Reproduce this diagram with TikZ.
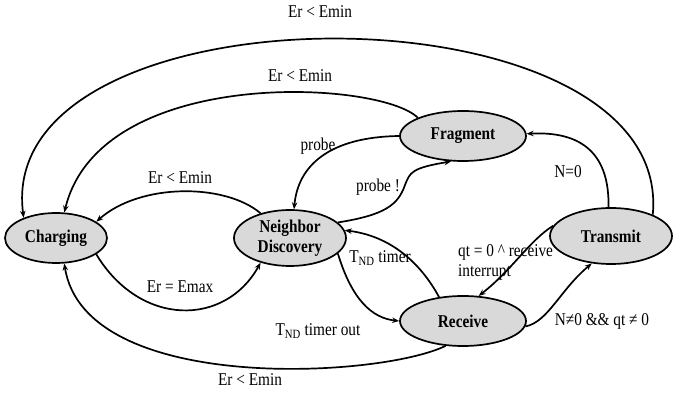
\documentclass[tikz,border=0pt]{standalone}
\usepackage{fontspec}
\setmainfont[FakeStretch=0.85]{Liberation Serif}
\usetikzlibrary{shapes.geometric,arrows.meta}
\definecolor{stfill}{HTML}{D9D9D9}
\begin{document}
\begin{tikzpicture}[x=1pt,y=-1pt,
  state/.style={ellipse,draw,line width=1.7pt,fill=stfill,inner sep=0pt,
    minimum width=#1,minimum height=50pt,align=center,
    font=\fontsize{18}{20}\selectfont\bfseries},
  lbl/.style={font=\fontsize{18}{20}\selectfont,inner sep=0pt,align=left},
  edge/.style={line width=1.7pt,-{Stealth[length=7pt,width=5.5pt]}}]
\useasboundingbox (0,0) rectangle (673,395);
\node[state=102pt] (C) at (56,238) {Charging};
\node[state=112pt,minimum height=56pt] (N) at (290,238) {Neighbor\\Discovery};
\node[state=126pt] (F) at (463,136) {Fragment};
\node[state=122pt,minimum height=56pt] (T) at (611,236) {Transmit};
\node[state=126pt] (R) at (463,321) {Receive};

% outer arc
\draw[edge] (T.27) .. controls (675,-20) and (-8,-20) .. (C.148);
\node[lbl] (l1) at (320,12) {Er < Emin};
% fragment -> charging
\draw[edge] (F.158) .. controls (380,80) and (100,65) .. (C.72);
\node[lbl] (l2) at (300,76) {Er < Emin};
% ND -> charging
\draw[edge] (N.140) .. controls (225,183) and (140,183) .. (C.22);
\node[lbl] (l3) at (180,178) {Er < Emin};
% charging -> ND
\draw[edge] (C.-22) .. controls (140,327) and (225,327) .. (N.-140);
\node[lbl] (l4) at (180,287) {Er = Emax};
% probe
\draw[edge] (F.180) .. controls (330,137) and (298,165) .. (N.82);
\node[lbl] (l5) at (318,146) {probe};
% probe !
\draw[edge] (N.18) .. controls (385,215) and (398,205) .. (405,185) .. controls (410,172) and (412,168) .. (F.245);
\node[lbl] (l6) at (378,187) {probe !};
% N=0
\draw[edge] (T.95) .. controls (610,140) and (565,132) .. (F.2);
\node[lbl] (l7) at (568,172) {N=0};
% TND timer out
\draw[edge] (N.-18) .. controls (352,300) and (372,318) .. (R.180);
\node[lbl] (l8) at (318,331) {T\textsubscript{ND} timer out};
% TND timer
\draw[edge] (R.135) .. controls (420,262) and (390,236) .. (N.8);
\node[lbl] (l9) at (380,258) {T\textsubscript{ND} timer};
% transmit -> receive
\draw[edge] (T.170) .. controls (530,240) and (512,270) .. (R.58);
\node[lbl,anchor=west] (l10) at (458,262) {qt = 0 \textasciicircum\ receive\\interrupt};
% receive -> transmit
\draw[edge] (R.-5) .. controls (548,322) and (560,290) .. (T.-125);
\node[lbl] (l11) at (602,321) {N≠0 \&\& qt ≠ 0};
% receive -> charging bottom
\draw[edge] (R.-125) .. controls (380,378) and (85,395) .. (C.-72);
\node[lbl] (l12) at (250,380) {Er < Emin};
\end{tikzpicture}
\end{document}
